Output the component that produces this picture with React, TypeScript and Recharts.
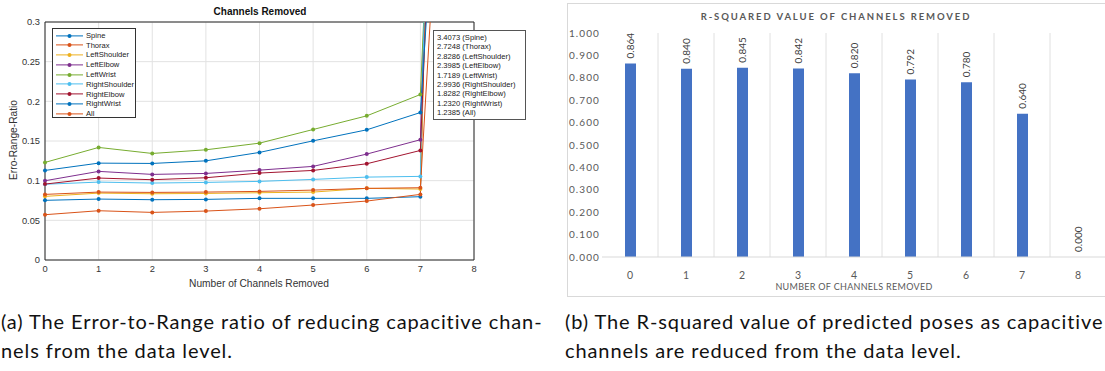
import {
  LineChart,
  Line,
  ComposedChart,
  Bar,
  XAxis,
  YAxis,
  CartesianGrid,
  ReferenceLine,
  LabelList
} from 'recharts'

// --- left chart: error-to-range ratio per joint ---
const channelsRemoved = [0, 1, 2, 3, 4, 5, 6, 7, 8]
const seriesNames = ['Spine', 'Thorax', 'LeftShoulder', 'LeftElbow', 'LeftWrist', 'RightShoulder', 'RightElbow', 'RightWrist', 'All']
const seriesColors = ['#0072BD', '#D95319', '#EDB120', '#7E2F8E', '#77AC30', '#4DBEEE', '#A2142F', '#0072BD', '#D95319']

const spine = [0.0752, 0.0768, 0.0760, 0.0764, 0.0777, 0.0777, 0.0777, 0.0798, 3.4073]
const thorax = [0.0571, 0.0621, 0.0600, 0.0617, 0.0646, 0.0693, 0.0743, 0.0827, 2.7248]
const leftShoulder = [0.0802, 0.0843, 0.0835, 0.0839, 0.0848, 0.0856, 0.0903, 0.0894, 2.8286]
const leftElbow = [0.0999, 0.1117, 0.1079, 0.1091, 0.1133, 0.1180, 0.1335, 0.1516, 2.3985]
const leftWrist = [0.1230, 0.1419, 0.1343, 0.1389, 0.1473, 0.1645, 0.1817, 0.2086, 1.7189]
const rightShoulder = [0.0955, 0.0982, 0.0970, 0.0978, 0.0991, 0.1016, 0.1045, 0.1054, 2.9936]
const rightElbow = [0.0957, 0.1033, 0.1012, 0.1037, 0.1096, 0.1129, 0.1213, 0.1381, 1.8282]
const rightWrist = [0.1129, 0.1221, 0.1217, 0.1250, 0.1356, 0.1502, 0.1641, 0.1859, 1.2320]
const allJoints = [0.0827, 0.0856, 0.0852, 0.0856, 0.0865, 0.0881, 0.0903, 0.0911, 1.2385]

const seriesValues = [spine, thorax, leftShoulder, leftElbow, leftWrist, rightShoulder, rightElbow, rightWrist, allJoints]
const ratioTicks = [0, 0.05, 0.1, 0.15, 0.2, 0.25, 0.3]

// --- right chart: R-squared ---
const rCategories = ['0', '1', '2', '3', '4', '5', '6', '7', '8']
const rSquared = [0.864, 0.840, 0.845, 0.842, 0.820, 0.792, 0.780, 0.640, 0.000]
const rTicks = [0, 0.1, 0.2, 0.3, 0.4, 0.5, 0.6, 0.7, 0.8, 0.9, 1.0]

const MATLAB_FONT = '"Liberation Sans", Arial, sans-serif'
const EXCEL_FONT = 'Lato, "Open Sans", sans-serif'
const CAPTION_FONT = 'Lato, "Open Sans", sans-serif'

const lineData = channelsRemoved.map((x, i) => {
  const row: Record<string, number> = { x }
  seriesNames.forEach((name, s) => {
    row[name] = seriesValues[s][i]
  })
  return row
})

const barData = rCategories.map((c, i) => ({ name: c, value: rSquared[i] }))

// rotated value above each bar (drawn from an invisible line so the 0 bar gets one too)
const BarValueLabel = (props: any) => {
  const { x, y, value } = props
  const ty = y - 5
  return (
    <text
      x={x}
      y={ty}
      transform={`rotate(-90 ${x} ${ty})`}
      textAnchor="start"
      dominantBaseline="central"
      fontSize={10}
      fontFamily={EXCEL_FONT}
      fill="#404040"
    >
      {Number(value).toFixed(3)}
    </text>
  )
}

const captionStyle: any = {
  position: 'absolute',
  top: 307,
  fontFamily: CAPTION_FONT,
  fontSize: 20,
  letterSpacing: 0.9,
  lineHeight: '29px',
  color: '#111',
  whiteSpace: 'nowrap'
}

export default function App() {
  return (
    <div style={{ position: 'absolute', left: 0, top: 0, width: 1105, height: 371, overflow: 'hidden', background: '#fff' }}>
      {/* left: MATLAB style line chart */}
      <div style={{ position: 'absolute', left: 0, top: 0 }}>
        <LineChart width={560} height={300} data={lineData} margin={{ top: 22, right: 86, left: 0, bottom: 10 }}>
          <CartesianGrid stroke="#e2e2e2" />
          <XAxis
            dataKey="x"
            type="number"
            domain={[0, 8]}
            ticks={channelsRemoved}
            height={30}
            stroke="#262626"
            tickLine={false}
            tickSize={3}
            tickMargin={2}
            tick={{ fontSize: 9.3, fill: '#333', fontFamily: MATLAB_FONT }}
          />
          <YAxis
            type="number"
            domain={[0, 0.3]}
            ticks={ratioTicks}
            allowDataOverflow
            width={45}
            stroke="#262626"
            tickLine={false}
            tickSize={3}
            tickMargin={2}
            tick={{ fontSize: 9.3, fill: '#333', fontFamily: MATLAB_FONT }}
          />
          <ReferenceLine y={0.3} stroke="#262626" />
          <ReferenceLine x={8} stroke="#262626" />
          {seriesNames.map((name, s) => (
            <Line
              key={name}
              dataKey={name}
              type="linear"
              stroke={seriesColors[s]}
              strokeWidth={1}
              dot={{ r: 2, fill: seriesColors[s], stroke: 'none' }}
              isAnimationActive={false}
            />
          ))}
        </LineChart>
      </div>

      <div style={{ position: 'absolute', left: 160, top: 5, width: 200, textAlign: 'center', fontFamily: MATLAB_FONT, fontWeight: 'bold', fontSize: 10, color: '#111', lineHeight: '14px' }}>
        Channels Removed
      </div>
      <div style={{ position: 'absolute', left: 159, top: 277, width: 200, textAlign: 'center', fontFamily: MATLAB_FONT, fontSize: 10.2, color: '#333', lineHeight: '14px' }}>
        Number of Channels Removed
      </div>
      <div style={{ position: 'absolute', left: 14 - 60, top: 140 - 7, width: 120, height: 14, textAlign: 'center', fontFamily: MATLAB_FONT, fontSize: 10.2, color: '#333', lineHeight: '14px', transform: 'rotate(-90deg)' }}>
        Erro-Range-Ratio
      </div>

      {/* legend */}
      <div style={{ position: 'absolute', left: 52, top: 28, width: 84, height: 90, boxSizing: 'border-box', border: '1px solid #333', background: '#fff', paddingTop: 1.5 }}>
        {seriesNames.map((name, s) => (
          <div key={name} style={{ height: 9.8, display: 'flex', alignItems: 'center', fontFamily: MATLAB_FONT, fontSize: 7.6, color: '#222' }}>
            <svg width={33} height={9.8} style={{ flex: 'none' }}>
              <line x1={3} x2={30} y1={4.9} y2={4.9} stroke={seriesColors[s]} strokeWidth={1} />
              <circle cx={16.5} cy={4.9} r={2} fill={seriesColors[s]} />
            </svg>
            <span>{name}</span>
          </div>
        ))}
      </div>

      {/* final values box */}
      <div style={{ position: 'absolute', left: 433, top: 30, width: 93, height: 90, boxSizing: 'border-box', border: '1px solid #555', background: '#fff', paddingTop: 2, paddingLeft: 3 }}>
        {seriesNames.map((name, s) => (
          <div key={name} style={{ height: 9.4, lineHeight: '9.4px', fontFamily: MATLAB_FONT, fontSize: 7.6, color: '#222', whiteSpace: 'nowrap' }}>
            {`${seriesValues[s][seriesValues[s].length - 1].toFixed(4)} (${name})`}
          </div>
        ))}
      </div>

      {/* right: Excel style bar chart */}
      <div style={{ position: 'absolute', left: 567, top: 3, width: 560, height: 294, boxSizing: 'border-box', border: '1px solid #d9d9d9' }}>
        <ComposedChart width={558} height={292} data={barData} margin={{ top: 29, right: 20, left: 0, bottom: 15 }}>
          <CartesianGrid
            horizontal={false}
            stroke="#e0e0e0"
            verticalCoordinatesGenerator={({ offset }: any) =>
              rCategories.slice(1).map((_, i) => offset.left + (offset.width * (i + 1)) / rCategories.length)
            }
          />
          <XAxis
            dataKey="name"
            height={24}
            stroke="#d9d9d9"
            tickLine={false}
            tickMargin={9}
            tick={{ fontSize: 10.5, fill: '#595959', fontFamily: EXCEL_FONT }}
          />
          <YAxis
            domain={[0, 1]}
            ticks={rTicks}
            width={34}
            axisLine={false}
            tickLine={false}
            tickSize={0}
            tickMargin={2}
            tickFormatter={(v: number) => v.toFixed(3)}
            tick={{ fontSize: 10, fill: '#595959', fontFamily: EXCEL_FONT, letterSpacing: 1.1 }}
          />
          <Bar dataKey="value" fill="#4472C4" barSize={11} isAnimationActive={false} />
          <Line dataKey="value" stroke="none" dot={false} activeDot={false} isAnimationActive={false}>
            <LabelList dataKey="value" content={BarValueLabel} />
          </Line>
        </ComposedChart>
      </div>

      <div style={{ position: 'absolute', left: 636, top: 10, width: 400, textAlign: 'center', fontFamily: EXCEL_FONT, fontWeight: 'bold', fontSize: 9.5, letterSpacing: 1.9, color: '#595959', lineHeight: '14px', whiteSpace: 'nowrap' }}>
        R-SQUARED VALUE OF CHANNELS REMOVED
      </div>
      <div style={{ position: 'absolute', left: 704, top: 280, width: 300, textAlign: 'center', fontFamily: EXCEL_FONT, fontSize: 9, letterSpacing: 0.3, color: '#595959', lineHeight: '14px', whiteSpace: 'nowrap' }}>
        NUMBER OF CHANNELS REMOVED
      </div>

      {/* captions */}
      <div style={{ ...captionStyle, left: 1 }}>
        (a) The Error-to-Range ratio of reducing capacitive chan-
        <br />
        nels from the data level.
      </div>
      <div style={{ ...captionStyle, left: 565 }}>
        (b) The R-squared value of predicted poses as capacitive
        <br />
        channels are reduced from the data level.
      </div>
    </div>
  )
}
